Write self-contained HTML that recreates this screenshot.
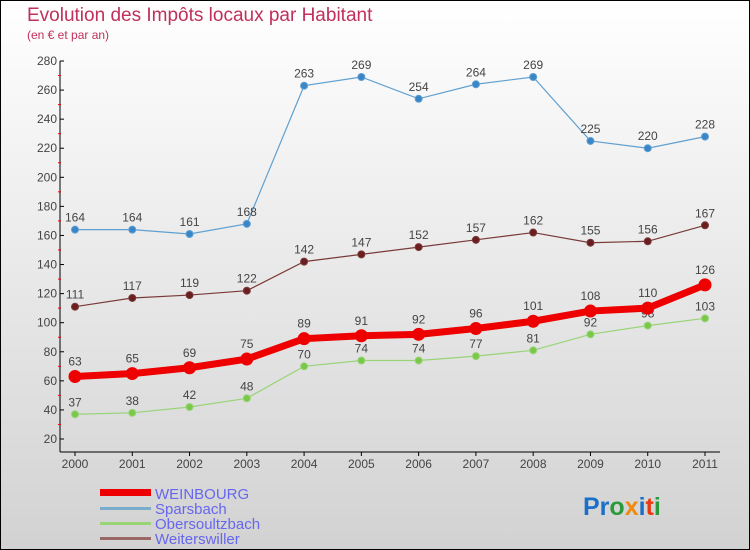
<!DOCTYPE html>
<html><head><meta charset="utf-8"><style>
body{margin:0}
#c{width:750px;height:550px;position:relative;box-sizing:border-box;border:1px solid #000;background:linear-gradient(#fff,#d2d2d2);font-family:"Liberation Sans",sans-serif;overflow:hidden}
</style></head><body>
<div id="c">
<svg id="s" width="750" height="550" style="position:absolute;left:-1px;top:-1px">
<text x="27" y="21" font-size="19" fill="#c0305a">Evolution des Impôts locaux par Habitant</text>
<text x="27" y="39" font-size="12" fill="#c0305a">(en € et par an)</text>
<g id="ax"></g><g id="series"></g>
<g>
<rect x="100" y="489" width="51" height="7" fill="#e00"/>
<text x="155" y="499" font-size="15" fill="#6666ee">WEINBOURG</text>
<rect x="100" y="507" width="51" height="3" fill="#7aaccc"/>
<text x="155" y="514" font-size="15" fill="#6666ee">Sparsbach</text>
<rect x="100" y="522" width="51" height="3" fill="#99d477"/>
<text x="155" y="529" font-size="15" fill="#6666ee">Obersoultzbach</text>
<rect x="100" y="537" width="51" height="3" fill="#9a6666"/>
<text x="155" y="544" font-size="15" fill="#6666ee">Weiterswiller</text>
</g>
<text x="583" y="515" font-size="25" font-weight="bold"><tspan fill="#1a70c8">Pr</tspan><tspan fill="#2a9a3a">o</tspan><tspan fill="#f08a10">x</tspan><tspan fill="#1a70c8">i</tspan><tspan fill="#e83a10">t</tspan><tspan fill="#2a9a3a">i</tspan></text>
</svg>
</div>
<script>
const years=[2000,2001,2002,2003,2004,2005,2006,2007,2008,2009,2010,2011];
const weinbourg=[63,65,69,75,89,91,92,96,101,108,110,126];
const sparsbach=[164,164,161,168,263,269,254,264,269,225,220,228];
const obersoultzbach=[37,38,42,48,70,74,74,77,81,92,98,103];
const weiterswiller=[111,117,119,122,142,147,152,157,162,155,156,167];
const yTicks=[20,40,60,80,100,120,140,160,180,200,220,240,260,280];
const NS="http://www.w3.org/2000/svg";
const X=i=>75+i*(630/11);
const Y=v=>439-(v-20)*378/260;
function mk(tag,attrs,parent){const e=document.createElementNS(NS,tag);for(const k in attrs)e.setAttribute(k,attrs[k]);parent.appendChild(e);return e;}
const ax=document.getElementById('ax');
let a=mk('line',{x1:60,y1:Y(280),x2:60,y2:452,stroke:'#000'},ax);


a=mk('line',{x1:60,y1:452,x2:720,y2:452,stroke:'#000'},ax);


yTicks.forEach(v=>{
  mk('line',{x1:60,y1:Y(v),x2:64,y2:Y(v),stroke:'#000'},ax);
  if(v<280)mk('line',{x1:58,y1:Y(v+10),x2:61,y2:Y(v+10),stroke:'#e00'},ax);
  const t=mk('text',{x:57,y:Y(v)+4,'font-size':12,fill:'#444','text-anchor':'end'},ax);t.textContent=v;
  
  
});
years.forEach((y,i)=>{
  mk('line',{x1:X(i),y1:452,x2:X(i),y2:456,stroke:'#000'},ax);
  const t=mk('text',{x:X(i),y:468,'font-size':12,fill:'#444','text-anchor':'middle'},ax);t.textContent=y;
  
  
});
const sg=document.getElementById('series');
function series(name,data,color,dot,w,r){
  const g=mk('g',{},sg);
  
  
  mk('polyline',{points:data.map((v,i)=>X(i)+','+Y(v)).join(' '),fill:'none',stroke:color,'stroke-width':w},g);
  data.forEach((v,i)=>{
    const c=mk('circle',{cx:X(i),cy:Y(v),r:r,fill:dot,stroke:color,'stroke-width':1},g);
    
    
    const t=mk('text',{x:X(i),y:Y(v)-8-(r>5?3:0),'font-size':12,fill:'#444','text-anchor':'middle'},g);t.textContent=v;
    
    
  });
}
series('sparsbach',sparsbach,'#5fa0d0','#3a85c8',1.2,3.5);
series('weiterswiller',weiterswiller,'#7a3a3a','#6a1e1e',1.2,3.5);
series('obersoultzbach',obersoultzbach,'#99d477','#7ac84a',1.2,3.5);
series('weinbourg',weinbourg,'#ee0000','#ee0000',7,6);
</script>
</body></html>
